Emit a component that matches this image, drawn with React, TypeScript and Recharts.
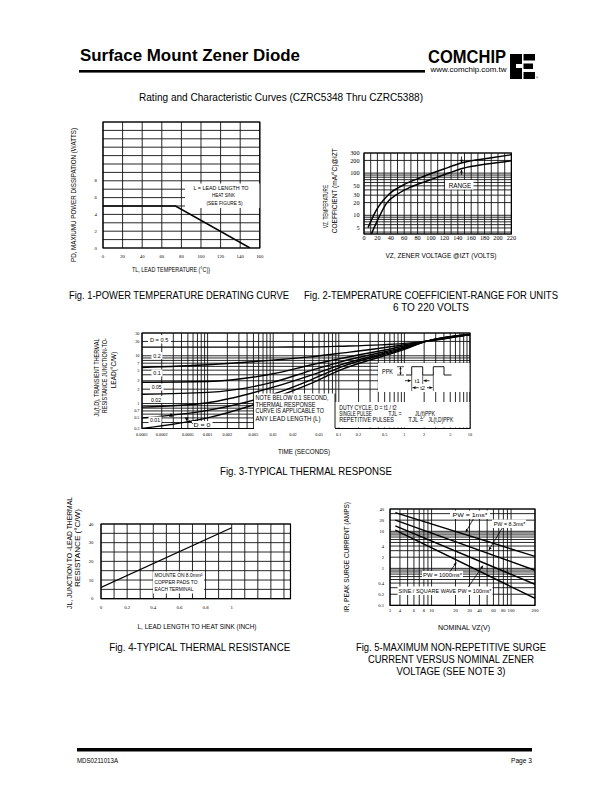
import React from 'react';
import { LineChart, Line, XAxis, YAxis, CartesianGrid, ReferenceArea } from 'recharts';

const SANS = "'Liberation Sans', Arial, sans-serif";
const SERIF = "'Liberation Serif', 'Times New Roman', serif";

// ---------- Fig 1: power temperature derating ----------
const fig1LeadTemp = [0, 74, 150];
const fig1PowerW = [5, 5, 0];
const fig1XTicks = [0, 20, 40, 60, 80, 100, 120, 140, 160];
const fig1XLabels = [0, 20, 40, 60, 80, 100, 120, 140, 160];
const fig1YTicks = [0, 1, 2, 3, 4, 5, 6, 7, 8, 9, 10, 11, 12, 13, 14, 15];
const fig1YLabels = [0, 2, 4, 6, 8];

// ---------- Fig 2: temperature coefficient range ----------
const fig2UpperVz = [6, 18, 38, 58, 88, 118, 148, 188, 220];
const fig2UpperTc = [5.1, 12.9, 32.5, 51.6, 82, 123, 178, 227, 273];
const fig2LowerVz = [11, 21, 33, 51, 68, 98, 128, 148, 183, 220];
const fig2LowerTc = [3.6, 8.1, 18.7, 32.5, 45.5, 68.6, 102, 130, 164, 196];
const fig2XTicks = [0, 10, 20, 30, 40, 50, 60, 70, 80, 90, 100, 110, 120, 130, 140, 150, 160, 170, 180, 190, 200, 210, 220];
const fig2XLabels = [0, 20, 40, 60, 80, 100, 120, 140, 160, 180, 200, 220];
const fig2YTicks = [4, 5, 6, 7, 8, 9, 10, 20, 30, 40, 50, 60, 70, 80, 90, 100, 200, 300];
const fig2YLabels = [5, 10, 20, 30, 50, 100, 200, 300];

// ---------- Fig 3: typical thermal response ----------
const fig3Time = [0.0001, 0.001, 0.01, 0.037, 0.1, 1, 2.2, 10];
const fig3D050 = [15.2, 15.2, 15.2, 15.3, 15.8, 18.2, 20.3, 28];
const fig3D020 = [5.7, 6.5, 8.1, 9.5, 11.2, 17, 20.3, 28];
const fig3D010 = [2.8, 2.9, 4.2, 6.4, 8.6, 16, 20.3, 28];
const fig3D005 = [1.57, 1.71, 2.8, 4.9, 7.3, 15.2, 20.3, 28];
const fig3D002 = [0.84, 1.04, 2.2, 3.9, 6.3, 14.6, 20.3, 28];
const fig3D001 = [0.5, 0.72, 1.57, 3.1, 5.6, 14.1, 20.3, 28];
const fig3D000 = [0.3, 0.5, 1.3, 2.6, 4.9, 13.6, 20.3, 28];
const fig3XTicks = [
  0.0001, 0.0002, 0.0003, 0.0004, 0.0005, 0.0006, 0.0007, 0.0008, 0.0009,
  0.001, 0.002, 0.003, 0.004, 0.005, 0.006, 0.007, 0.008, 0.009,
  0.01, 0.02, 0.03, 0.04, 0.05, 0.06, 0.07, 0.08, 0.09,
  0.1, 0.2, 0.3, 0.4, 0.5, 0.6, 0.7, 0.8, 0.9,
  1, 2, 3, 4, 5, 6, 7, 8, 9, 10,
];
const fig3XLabels = [0.0001, 0.0002, 0.0005, 0.001, 0.002, 0.005, 0.01, 0.02, 0.05, 0.1, 0.2, 0.5, 1, 2, 5, 10];
const fig3YTicks = [0.3, 0.4, 0.5, 0.6, 0.7, 0.8, 0.9, 1, 2, 3, 4, 5, 6, 7, 8, 9, 10, 20, 30];
const fig3YLabels = [0.3, 0.5, 0.7, 1, 2, 3, 5, 7, 10, 20, 30];

// ---------- Fig 4: typical thermal resistance ----------
const fig4LeadLen = [0, 1];
const fig4ThetaJL = [6, 38];
const fig4XTicks = [0, 0.1, 0.2, 0.3, 0.4, 0.5, 0.6, 0.7, 0.8, 0.9, 1, 1.1, 1.2, 1.3, 1.4];
const fig4XLabels = [0, 0.2, 0.4, 0.6, 0.8, 1];
const fig4YTicks = [0, 5, 10, 15, 20, 25, 30, 35, 40];
const fig4YLabels = [0, 10, 20, 30, 40];

// ---------- Fig 5: max non-repetitive surge ----------
const fig5Vz = [3.5, 200];
const fig5Pw1ms = [32, 2.1];
const fig5Pw83ms = [20, 0.89];
const fig5Pw100ms = [14, 0.37];
const fig5Pw1000ms = [10.7, 0.155];
const fig5XTicks = [3, 4, 5, 6, 7, 8, 9, 10, 20, 30, 40, 50, 60, 70, 80, 90, 100, 200];
const fig5XLabels = [3, 4, 6, 8, 10, 20, 30, 40, 60, 80, 100, 200];
const fig5YTicks = [0.1, 0.2, 0.3, 0.4, 0.5, 0.6, 0.7, 0.8, 0.9, 1, 2, 3, 4, 5, 6, 7, 8, 9, 10, 20, 30, 40];
const fig5YLabels = [0.1, 0.2, 0.4, 1, 2, 4, 10, 20, 40];

type Series = { xs: number[]; ys: number[]; curve?: 'linear' | 'monotone'; width?: number };
type PlotProps = {
  box: [number, number, number, number];
  xDomain: [number, number];
  yDomain: [number, number];
  xLog?: boolean;
  yLog?: boolean;
  xTicks: number[];
  yTicks: number[];
  xLabels: number[];
  yLabels: number[];
  font: number;
  xOff: number;
  yOff: number;
  series: Series[];
};

const PL = 40, PT = 10, PR = 10, PB = 22;

function Plot(p: PlotProps) {
  const [x0, y0, x1, y1] = p.box;
  const w = x1 - x0;
  const h = y1 - y0;
  const xl = new Set(p.xLabels);
  const yl = new Set(p.yLabels);
  const XT = (t: any) =>
    xl.has(t.payload.value) ? (
      <text x={t.x} y={t.y + p.xOff} textAnchor="middle" fontFamily={SERIF} fontSize={p.font} fill="#000">
        {String(t.payload.value)}
      </text>
    ) : (
      <g />
    );
  const YT = (t: any) =>
    yl.has(t.payload.value) ? (
      <text x={t.x - p.yOff} y={t.y + p.font * 0.35} textAnchor="end" fontFamily={SERIF} fontSize={p.font} fill="#000">
        {String(t.payload.value)}
      </text>
    ) : (
      <g />
    );
  return (
    <div style={{ position: 'absolute', left: x0 - PL, top: y0 - PT }}>
      <LineChart width={w + PL + PR} height={h + PT + PB} margin={{ top: PT, right: PR, bottom: 0, left: 0 }}>
        <CartesianGrid stroke="#111" strokeWidth={0.9} />
        <XAxis
          type="number"
          dataKey="x"
          scale={p.xLog ? 'log' : 'linear'}
          domain={p.xDomain}
          allowDataOverflow
          ticks={p.xTicks}
          interval={0}
          height={PB}
          tickLine={false}
          tickSize={0}
          tickMargin={0}
          axisLine={false}
          tick={XT}
        />
        <YAxis
          type="number"
          dataKey="y"
          scale={p.yLog ? 'log' : 'linear'}
          domain={p.yDomain}
          allowDataOverflow
          ticks={p.yTicks}
          interval={0}
          width={PL}
          tickLine={false}
          tickSize={0}
          tickMargin={0}
          axisLine={false}
          tick={YT}
        />
        {p.series.map((s, i) => (
          <Line
            key={i}
            data={s.xs.map((x, j) => ({ x, y: s.ys[j] }))}
            dataKey="y"
            type={s.curve ?? 'linear'}
            stroke="#000"
            strokeWidth={s.width ?? 1.4}
            dot={false}
            activeDot={false}
            isAnimationActive={false}
          />
        ))}
        <ReferenceArea
          x1={p.xDomain[0]}
          x2={p.xDomain[1]}
          y1={p.yDomain[0]}
          y2={p.yDomain[1]}
          fill="none"
          fillOpacity={0}
          stroke="#000"
          strokeWidth={1.2}
          ifOverflow="visible"
        />
      </LineChart>
    </div>
  );
}

function Txt(props: {
  x: number; y: number; s: number; w?: number; a?: 'start' | 'middle' | 'end';
  b?: boolean; f?: string; r?: boolean; children: React.ReactNode;
}) {
  const { x, y, s, w, a = 'start', b, f = SANS, r, children } = props;
  return (
    <text
      x={x}
      y={y}
      fontSize={s}
      fontFamily={f}
      fontWeight={b ? 700 : 400}
      textAnchor={a}
      textLength={w}
      lengthAdjust={w ? 'spacingAndGlyphs' : undefined}
      transform={r ? `rotate(-90 ${x} ${y})` : undefined}
      fill="#000"
    >
      {children}
    </text>
  );
}

function Arrow({ x1, y1, x2, y2 }: { x1: number; y1: number; x2: number; y2: number }) {
  const ang = Math.atan2(y2 - y1, x2 - x1);
  const back = 3.6, half = 1.4;
  const c = Math.cos(ang), s = Math.sin(ang);
  const bx = x2 - back * c, by = y2 - back * s;
  const pts = `${x2},${y2} ${bx - half * s},${by + half * c} ${bx + half * s},${by - half * c}`;
  return (
    <g>
      <line x1={x1} y1={y1} x2={bx} y2={by} stroke="#000" strokeWidth={0.8} />
      <polygon points={pts} fill="#000" />
    </g>
  );
}

function Overlay() {
  return (
    <svg
      width={612}
      height={792}
      style={{ position: 'absolute', left: 0, top: 0, pointerEvents: 'none', zIndex: 5 }}
    >
      {/* header */}
      <Txt x={80} y={61} s={17} b w={220}>Surface Mount Zener Diode</Txt>
      <rect x={79} y={70} width={346} height={2.6} fill="#000" />
      <Txt x={428} y={62.5} s={17.5} b w={78}>COMCHIP</Txt>
      <Txt x={430.5} y={71.5} s={6.3} w={76}>www.comchip.com.tw</Txt>
      <rect x={510} y={54} width={12} height={25} fill="#000" />
      <rect x={516} y={64} width={6} height={4} fill="#fff" />
      <rect x={523.5} y={54} width={11.5} height={6.5} fill="#000" />
      <rect x={523.5} y={63.5} width={9.5} height={5.5} fill="#000" />
      <rect x={523.5} y={72} width={11.5} height={7} fill="#000" />
      <Txt x={536} y={79} s={3}>®</Txt>
      <Txt x={139} y={100.5} s={10.5} w={284}>Rating and Characteristic Curves (CZRC5348 Thru CZRC5388)</Txt>

      {/* Fig 1 */}
      <Txt x={76} y={195} s={7.5} a="middle" r w={134}>PD, MAXIUMU POWER DISSIPATION (WATTS)</Txt>
      <Txt x={171} y={271.5} s={7.5} a="middle" w={78}>TL, LEAD TEMPERATURE (°C))</Txt>
      <rect x={185} y={183.5} width={74.5} height={24.5} fill="#fff" />
      <Txt x={221} y={189.5} s={6.2} a="middle" w={55}>L = LEAD LENGTH TO</Txt>
      <Txt x={223.5} y={197.2} s={6.2} a="middle" w={23}>HEAT SINK</Txt>
      <Txt x={224.5} y={204.8} s={6.2} a="middle" w={36}>(SEE FIGURE 5)</Txt>
      <Txt x={179} y={299} s={10.5} a="middle" w={220}>Fig. 1-POWER TEMPERATURE DERATING CURVE</Txt>

      {/* Fig 2 */}
      <Txt x={327.5} y={206.5} s={7.5} a="middle" r w={43}>VZ, TEMPERATURE</Txt>
      <Txt x={337.5} y={190.7} s={7.5} a="middle" r w={85}>COEFFICIENT (mA/°C)@IZT</Txt>
      <Txt x={441} y={258} s={7.5} a="middle" w={111}>VZ, ZENER VOLTAGE @IZT (VOLTS)</Txt>
      <rect x={445} y={180} width={28.5} height={9.5} fill="#fff" />
      <Txt x={460} y={187.8} s={7.5} a="middle" w={22.5}>RANGE</Txt>
      <Arrow x1={461.5} y1={156.5} x2={461.5} y2={163.4} />
      <Arrow x1={461.5} y1={175} x2={461.5} y2={169.2} />
      <Txt x={431} y={299} s={10.5} a="middle" w={254}>Fig. 2-TEMPERATURE COEFFICIENT-RANGE FOR UNITS</Txt>
      <Txt x={431} y={310.5} s={10.5} a="middle" w={76}>6 TO 220 VOLTS</Txt>

      {/* Fig 3 */}
      <Txt x={99.2} y={377.5} s={7.5} a="middle" r w={78}>JL(t,D), TRANSIENT THERMAL</Txt>
      <Txt x={107.5} y={375.7} s={7.5} a="middle" r w={75}>RESISTANCE JUNCTION-TO-</Txt>
      <Txt x={115.8} y={370} s={7.5} a="middle" r w={36.5}>LEAD(°C/W)</Txt>
      <Txt x={304} y={453.5} s={7.5} a="middle" w={52}>TIME (SECONDS)</Txt>
      <Txt x={306} y={474.5} s={10.5} a="middle" w={172}>Fig. 3-TYPICAL THERMAL RESPONSE</Txt>
      <rect x={148} y={335} width={23} height={8.5} fill="#fff" />
      <Txt x={150} y={341.7} s={5.8} w={18.3}>D = 0.5</Txt>
      <rect x={151.5} y={352} width={11} height={7} fill="#fff" />
      <Txt x={153.3} y={357.6} s={5.8} w={7.5}>0.2</Txt>
      <rect x={151.5} y={369.5} width={11} height={7} fill="#fff" />
      <Txt x={153.3} y={375.2} s={5.8} w={7.5}>0.1</Txt>
      <rect x={150} y={383.5} width={13.5} height={7} fill="#fff" />
      <Txt x={151.7} y={389.2} s={5.8} w={10}>0.05</Txt>
      <rect x={149.5} y={396} width={13.5} height={7} fill="#fff" />
      <Txt x={151} y={401.7} s={5.8} w={10}>0.02</Txt>
      <rect x={148.5} y={416.5} width={13} height={7} fill="#fff" />
      <Txt x={150} y={422.2} s={5.8} w={10}>0.01</Txt>
      <rect x={192} y={421} width={20.5} height={6.8} fill="#fff" />
      <Txt x={193.5} y={426.6} s={5.8} w={17}>D = 0</Txt>
      <line x1={188.5} y1={420} x2={193} y2={423.8} stroke="#000" strokeWidth={0.7} />
      <polygon points="184.7,417.6 188.7,417.6 186.7,421.2" fill="#000" />
      <polygon points="169,416.7 173,416.7 171,412.9" fill="#000" />

      <rect x={254} y={393.5} width={81} height={36} fill="#fff" />
      <Txt x={255.5} y={399.5} s={6.3} w={73}>NOTE BELOW 0.1 SECOND,</Txt>
      <Txt x={255.5} y={406.5} s={6.3} w={60}>THERMAL RESPONSE</Txt>
      <Txt x={255.5} y={413.3} s={6.3} w={68.5}>CURVE IS APPLICABLE TO</Txt>
      <Txt x={255.5} y={420.5} s={6.3} w={65}>ANY LEAD LENGTH (L)</Txt>
      <rect x={335} y={402} width={134.5} height={25.5} fill="#fff" />
      <line x1={335} y1={393.5} x2={335} y2={428} stroke="#000" strokeWidth={0.9} />
      <Txt x={339.3} y={409.5} s={6.3} w={57.4}>DUTY CYCLE, D = t1 / t2</Txt>
      <Txt x={339.3} y={415.5} s={6.3} w={32.5}>SINGLE PULSE</Txt>
      <Txt x={388.3} y={415.5} s={6.3} w={13.5}>TJL =</Txt>
      <Txt x={415} y={415.5} s={6.3} w={20}>JL(t)PPK</Txt>
      <Txt x={339.3} y={421.5} s={6.3} w={54.7}>REPETITIVE PULSES</Txt>
      <Txt x={408.3} y={421.5} s={6.3} w={15}>TJL =</Txt>
      <Txt x={428.3} y={421.5} s={6.3} w={25}>JL(t,D)PPK</Txt>

      <rect x={378} y={363} width={91.5} height={29} fill="#fff" />
      <Txt x={382} y={374} s={6.3} w={11}>PPK</Txt>
      <line x1={397} y1={366.7} x2={404} y2={366.7} stroke="#000" strokeWidth={0.7} />
      <line x1={397} y1={375} x2={404} y2={375} stroke="#000" strokeWidth={0.7} />
      <line x1={400.5} y1={367} x2={400.5} y2={374.7} stroke="#000" strokeWidth={0.7} />
      <polygon points="399.3,369.2 401.7,369.2 400.5,367" fill="#000" />
      <polygon points="399.3,372.5 401.7,372.5 400.5,374.7" fill="#000" />
      <path d="M406 375 H411.7 V366.7 H422.7 V375 H433.3 V366.7 H444 V375 H451.5" fill="none" stroke="#000" strokeWidth={0.9} />
      <line x1={411.7} y1={375} x2={411.7} y2={391} stroke="#000" strokeWidth={0.6} />
      <line x1={422.7} y1={375} x2={422.7} y2={384} stroke="#000" strokeWidth={0.6} />
      <line x1={433.3} y1={375} x2={433.3} y2={391} stroke="#000" strokeWidth={0.6} />
      <Arrow x1={405} y1={380.7} x2={411.5} y2={380.7} />
      <Arrow x1={429.5} y1={380.7} x2={423} y2={380.7} />
      <Txt x={417.2} y={383} s={5.8} a="middle">t1</Txt>
      <Arrow x1={418.5} y1={387.7} x2={412} y2={387.7} />
      <Arrow x1={427} y1={387.7} x2={433} y2={387.7} />
      <Txt x={422.6} y={390} s={5.8} a="middle">t2</Txt>

      {/* Fig 4 */}
      <Txt x={72} y={553} s={7.5} a="middle" r w={112}>JL, JUNCTION TO -LEAD THERMAL</Txt>
      <Txt x={80} y={548} s={7.5} a="middle" r w={78}>RESISTANCE (°C/W)</Txt>
      <Txt x={197} y={628.5} s={7.5} a="middle" w={119}>L, LEAD LENGTH TO HEAT SINK (INCH)</Txt>
      <rect x={153} y={571.5} width={51} height={22} fill="#fff" />
      <Txt x={154.5} y={577} s={6.2} w={48}>MOUNTE ON 8.0mm²</Txt>
      <Txt x={154.5} y={584.3} s={6.2} w={43}>COPPER PADS TO</Txt>
      <Txt x={154.5} y={591.3} s={6.2} w={39}>EACH TERMINAL</Txt>
      <Txt x={199.7} y={651} s={10.5} a="middle" w={181}>Fig. 4-TYPICAL THERMAL RESISTANCE</Txt>

      {/* Fig 5 */}
      <Txt x={349} y={557} s={7.5} a="middle" r w={110}>IR, PEAK SURGE CURRENT (AMPS)</Txt>
      <Txt x={464} y={629.5} s={7.5} a="middle" w={52}>NOMINAL VZ(V)</Txt>
      <rect x={450} y={510.5} width={40} height={8.5} fill="#fff" />
      <Txt x={470} y={517.3} s={6.2} a="middle" w={35}>PW = 1ms*</Txt>
      <Arrow x1={473.3} y1={519} x2={465.5} y2={532.5} />
      <rect x={492} y={519.5} width={34} height={8.5} fill="#fff" />
      <Txt x={509.5} y={526.3} s={6.2} a="middle" w={31.5}>PW = 8.3ms*</Txt>
      <Arrow x1={502.3} y1={528} x2={488.6} y2={550.5} />
      <rect x={422} y={571} width={41} height={8} fill="#fff" />
      <Txt x={442.5} y={577.3} s={6.2} a="middle" w={39}>PW = 1000ms*</Txt>
      <Arrow x1={450} y1={571.5} x2={456.7} y2={562} />
      <rect x={397.5} y={586.5} width={95} height={8.5} fill="#fff" />
      <Txt x={445} y={593} s={6.2} a="middle" w={93}>SINE / SQUARE WAVE PW = 100ms*</Txt>
      <Arrow x1={468.3} y1={587} x2={483.3} y2={565.2} />
      <Txt x={451} y={651} s={10.5} a="middle" w={190}>Fig. 5-MAXIMUM NON-REPETITIVE SURGE</Txt>
      <Txt x={451} y={663} s={10.5} a="middle" w={166}>CURRENT VERSUS NOMINAL ZENER</Txt>
      <Txt x={451} y={675} s={10.5} a="middle" w={109}>VOLTAGE (SEE NOTE 3)</Txt>

      {/* footer */}
      <rect x={77} y={748} width={455} height={3.5} fill="#000" />
      <Txt x={77} y={762.5} s={6.5} w={41}>MDS0211013A</Txt>
      <Txt x={532} y={762.5} s={6.5} a="end" w={21}>Page 3</Txt>
    </svg>
  );
}

export default function App() {
  return (
    <div style={{ position: 'absolute', left: 0, top: 0, width: 612, height: 792, background: '#fff', overflow: 'hidden' }}>
      <Plot
        box={[102.7, 122, 259.5, 248]}
        xDomain={[0, 160]}
        yDomain={[0, 15]}
        xTicks={fig1XTicks}
        yTicks={fig1YTicks}
        xLabels={fig1XLabels}
        yLabels={fig1YLabels}
        font={4.8}
        xOff={10.2}
        yOff={6}
        series={[{ xs: fig1LeadTemp, ys: fig1PowerW, width: 1.5 }]}
      />
      <Plot
        box={[364.3, 153, 511.7, 234]}
        xDomain={[0, 220]}
        yDomain={[3.6, 300]}
        yLog
        xTicks={fig2XTicks}
        yTicks={fig2YTicks}
        xLabels={fig2XLabels}
        yLabels={fig2YLabels}
        font={6.2}
        xOff={5.6}
        yOff={4.5}
        series={[
          { xs: fig2UpperVz, ys: fig2UpperTc, curve: 'monotone', width: 1.5 },
          { xs: fig2LowerVz, ys: fig2LowerTc, curve: 'monotone', width: 1.5 },
        ]}
      />
      <Plot
        box={[141.6, 332.5, 469.6, 428]}
        xDomain={[0.0001, 10]}
        yDomain={[0.3, 30]}
        xLog
        yLog
        xTicks={fig3XTicks}
        yTicks={fig3YTicks}
        xLabels={fig3XLabels}
        yLabels={fig3YLabels}
        font={4.3}
        xOff={7.5}
        yOff={2.5}
        series={[
          { xs: fig3Time, ys: fig3D050, curve: 'monotone' },
          { xs: fig3Time, ys: fig3D020, curve: 'monotone' },
          { xs: fig3Time, ys: fig3D010, curve: 'monotone' },
          { xs: fig3Time, ys: fig3D005, curve: 'monotone' },
          { xs: fig3Time, ys: fig3D002, curve: 'monotone' },
          { xs: fig3Time, ys: fig3D001, curve: 'monotone' },
          { xs: fig3Time, ys: fig3D000, curve: 'monotone' },
        ]}
      />
      <Plot
        box={[101, 524.3, 290.5, 599]}
        xDomain={[0, 1.45]}
        yDomain={[0, 40]}
        xTicks={fig4XTicks}
        yTicks={fig4YTicks}
        xLabels={fig4XLabels}
        yLabels={fig4YLabels}
        font={4.8}
        xOff={10}
        yOff={7.5}
        series={[{ xs: fig4LeadLen, ys: fig4ThetaJL, width: 1.3 }]}
      />
      <Plot
        box={[390, 509.3, 535, 605.7]}
        xDomain={[3, 200]}
        yDomain={[0.1, 40]}
        xLog
        yLog
        xTicks={fig5XTicks}
        yTicks={fig5YTicks}
        xLabels={fig5XLabels}
        yLabels={fig5YLabels}
        font={4.6}
        xOff={6.6}
        yOff={6}
        series={[
          { xs: fig5Vz, ys: fig5Pw1ms },
          { xs: fig5Vz, ys: fig5Pw83ms },
          { xs: fig5Vz, ys: fig5Pw100ms },
          { xs: fig5Vz, ys: fig5Pw1000ms },
        ]}
      />
      <Overlay />
    </div>
  );
}
